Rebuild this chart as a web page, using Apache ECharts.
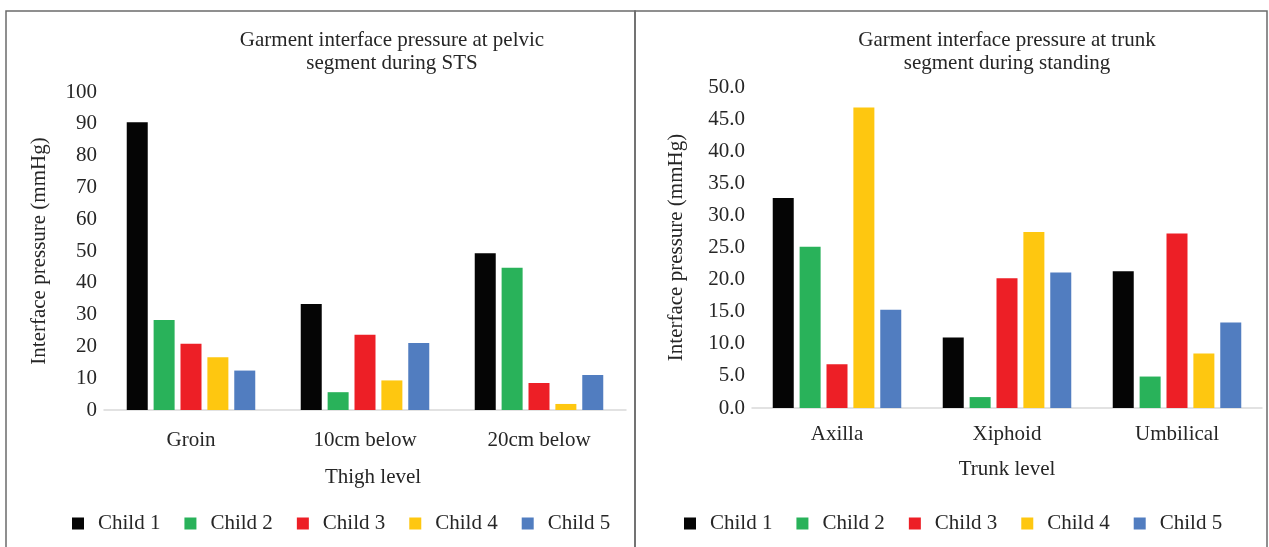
<!DOCTYPE html>
<html>
<head>
<meta charset="utf-8">
<script src="https://cdn.jsdelivr.net/npm/echarts@6/dist/echarts.min.js"></script>
<style>
  html, body { margin: 0; padding: 0; background: #fff; }
  #chart { width: 1269px; height: 547px; }
</style>
</head>
<body>
<div id="chart"></div>
<script>
// ---- data ----
let childNames = ['Child 1', 'Child 2', 'Child 3', 'Child 4', 'Child 5'];
let childColors = ['#050505', '#29b25a', '#ed1f26', '#fec710', '#517dc0'];

let thighLevels = ['Groin', '10cm below', '20cm below'];
let pelvicChild1 = [90.5, 33.3, 49.3];
let pelvicChild2 = [28.3, 5.6, 44.7];
let pelvicChild3 = [20.8, 23.7, 8.5];
let pelvicChild4 = [16.6, 9.3, 1.9];
let pelvicChild5 = [12.4, 21.1, 11.0];

let trunkLevels = ['Axilla', 'Xiphoid', 'Umbilical'];
let trunkChild1 = [32.7, 11.0, 21.3];
let trunkChild2 = [25.1, 1.7, 4.9];
let trunkChild3 = [6.8, 20.2, 27.2];
let trunkChild4 = [46.8, 27.4, 8.5];
let trunkChild5 = [15.3, 21.1, 13.3];

let pelvicData = [pelvicChild1, pelvicChild2, pelvicChild3, pelvicChild4, pelvicChild5];
let trunkData = [trunkChild1, trunkChild2, trunkChild3, trunkChild4, trunkChild5];

// ---- chart ----
let font = '"Liberation Serif", "Times New Roman", serif';
let txt = '#262626';
let fs = 21;
let myChart = echarts.init(document.getElementById('chart'));

function xAxisFor(idx, cats, name, labelGap, nameGap, namePad) {
    return {
        type: 'category',
        gridIndex: idx,
        data: cats,
        axisTick: {show: false},
        axisLine: {lineStyle: {color: '#d9d9d9', width: 1.5}},
        axisLabel: {fontFamily: font, fontSize: fs, color: txt, margin: labelGap},
        name: name,
        nameLocation: 'middle',
        nameGap: nameGap,
        nameTextStyle: {fontFamily: font, fontSize: fs, color: txt, padding: namePad}
    };
}

function yAxisFor(idx, max, step, digits, gap) {
    return {
        type: 'value',
        gridIndex: idx,
        min: 0,
        max: max,
        interval: step,
        splitLine: {show: false},
        axisLine: {show: false},
        axisTick: {show: false},
        axisLabel: {
            fontFamily: font, fontSize: fs, color: txt, margin: 7,
            formatter: function (v) { return v.toFixed(digits); }
        },
        name: 'Interface pressure (mmHg)',
        nameLocation: 'middle',
        nameGap: gap,
        nameTextStyle: {fontFamily: font, fontSize: fs, color: txt}
    };
}

let series = [];
childNames.forEach(function (nm, i) {
    series.push({
        name: nm, type: 'bar', xAxisIndex: 0, yAxisIndex: 0,
        barWidth: 21, barGap: '28%',
        itemStyle: {color: childColors[i]},
        data: pelvicData[i]
    });
    series.push({
        name: nm, type: 'bar', xAxisIndex: 1, yAxisIndex: 1,
        barWidth: 21, barGap: '28%',
        itemStyle: {color: childColors[i]},
        data: trunkData[i]
    });
});

let legendBase = {
    data: childNames,
    top: 513,
    padding: 0,
    itemWidth: 12,
    itemHeight: 12,
    itemGap: 24,
    icon: 'rect',
    textStyle: {fontFamily: font, fontSize: fs, color: txt, padding: [0, 0, 0, 9]}
};

option = {
    animation: false,
    backgroundColor: '#fff',
    title: [
        {
            text: 'Garment interface pressure at pelvic\nsegment during STS',
            left: 392, top: 29, textAlign: 'center', padding: 0,
            textStyle: {fontFamily: font, fontSize: fs, fontWeight: 'normal', color: txt, lineHeight: 23}
        },
        {
            text: 'Garment interface pressure at trunk\nsegment during standing',
            left: 1007, top: 29, textAlign: 'center', padding: 0,
            textStyle: {fontFamily: font, fontSize: fs, fontWeight: 'normal', color: txt, lineHeight: 23}
        }
    ],
    legend: [
        Object.assign({left: 72}, legendBase),
        Object.assign({left: 684}, legendBase)
    ],
    grid: [
        {left: 104, top: 92, width: 522, height: 318},
        {left: 752, top: 87, width: 510, height: 321}
    ],
    xAxis: [
        xAxisFor(0, thighLevels, 'Thigh level', 20, 57, [0, 0, 0, 16]),
        xAxisFor(1, trunkLevels, 'Trunk level', 16, 51, 0)
    ],
    yAxis: [
        yAxisFor(0, 100, 10, 0, 54),
        yAxisFor(1, 50, 5, 1, 65)
    ],
    graphic: [
        {type: 'rect', shape: {x: 6, y: 11, width: 629, height: 560},
         style: {fill: null, stroke: '#6b6b6b', lineWidth: 1.5}, silent: true},
        {type: 'rect', shape: {x: 635, y: 11, width: 632, height: 560},
         style: {fill: null, stroke: '#6b6b6b', lineWidth: 1.5}, silent: true}
    ],
    series: series
};
myChart.setOption(option);
</script>
</body>
</html>
